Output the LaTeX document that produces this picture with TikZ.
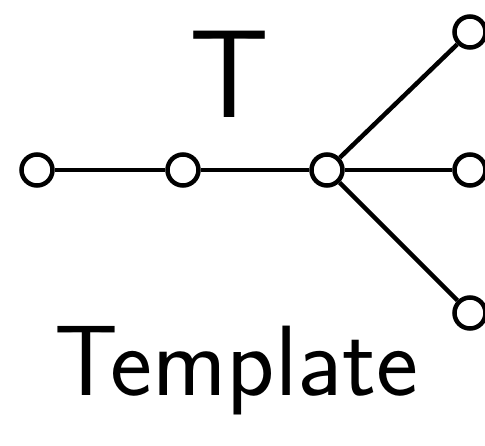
\documentclass[tikz,border=0pt]{standalone}
\usetikzlibrary{positioning}

\begin{document}
\begin{tikzpicture}[
    x=1pt,y=-1pt,
    vertex/.style={
      draw,
      circle,
      fill=white,
      line width=4.5pt,
      minimum size=31pt,
      inner sep=0pt
    },
    edge/.style={
      line width=4.5pt
    },
    hand/.style={
      font=\sffamily\fontsize{#1}{#1}\selectfont
    }
    ]
    \useasboundingbox (0,0) rectangle (485,445);

    % the tree
    \node[vertex] (a) at (37,170) {};
    \node[vertex] (b) at (183,170) {};
    \node[vertex] (c) at (327,170) {};
    \node[vertex] (d) at (470,32) {};
    \node[vertex] (e) at (470,170) {};
    \node[vertex] (f) at (470,313) {};

    \draw[edge] (a) -- (b);
    \draw[edge] (b) -- (c);
    \draw[edge] (c) -- (d);
    \draw[edge] (c) -- (e);
    \draw[edge] (c) -- (f);

    % labels
    \node[hand=125,anchor=base,inner sep=0pt] (t) at (230,117) {T};
    \node[hand=100,anchor=base west,inner sep=0pt] (name) at (54,395) {Template};
\end{tikzpicture}
\end{document}
